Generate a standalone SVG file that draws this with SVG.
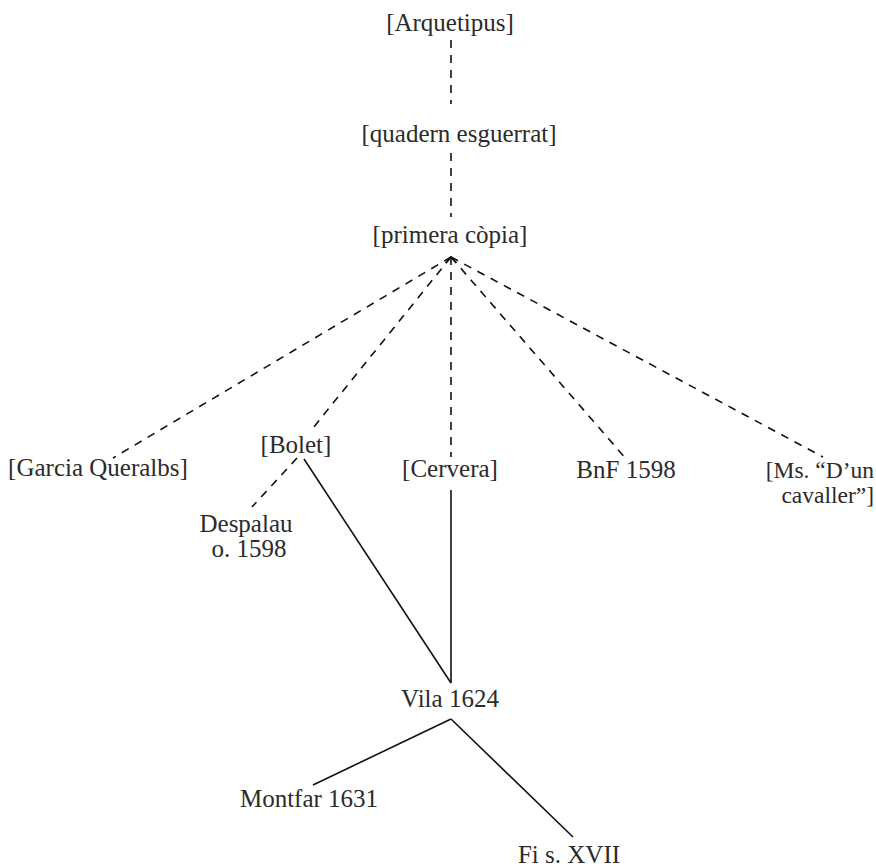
<svg xmlns="http://www.w3.org/2000/svg" width="876" height="868" viewBox="0 0 876 868">
<style>
  text { font-family: "Liberation Serif", "DejaVu Serif", serif; font-size: 25px; fill: #2b2b2b; text-anchor: middle; }
  .ms { font-size: 23.5px; text-anchor: end; }
  .dash { stroke: #111; stroke-width: 1.6; stroke-dasharray: 8 7; fill: none; }
  .solid { stroke: #111; stroke-width: 1.6; fill: none; }
</style>
<rect width="876" height="868" fill="#ffffff"/>
<g id="connectors">
  <line class="dash" x1="451" y1="40" x2="451" y2="104"/>
  <line class="dash" x1="451" y1="153" x2="451" y2="217"/>
  <line class="dash" x1="451" y1="257" x2="113" y2="458"/>
  <line class="dash" x1="451" y1="257" x2="313" y2="428"/>
  <line class="dash" x1="451" y1="257" x2="451" y2="457"/>
  <line class="dash" x1="451" y1="257" x2="627" y2="460"/>
  <line class="dash" x1="451" y1="257" x2="823" y2="457"/>
  <polyline class="solid" points="445.5,263 451,257 456.5,263"/>
  <line class="dash" x1="297" y1="458" x2="252" y2="507"/>
  <line class="solid" x1="304" y1="459" x2="451" y2="683"/>
  <line class="solid" x1="451" y1="490" x2="451" y2="683"/>
  <line class="solid" x1="451" y1="719" x2="313" y2="785"/>
  <line class="solid" x1="451" y1="719" x2="573" y2="837"/>
</g>
<g id="arquetipus"><text x="450" y="31">[Arquetipus]</text></g>
<g id="quadern"><text x="459" y="142">[quadern esguerrat]</text></g>
<g id="primera"><text x="450" y="243">[primera còpia]</text></g>
<g id="garcia"><text x="98" y="476">[Garcia Queralbs]</text></g>
<g id="bolet"><text x="296" y="453">[Bolet]</text></g>
<g id="cervera"><text x="450" y="477">[Cervera]</text></g>
<g id="bnf"><text x="626" y="478">BnF 1598</text></g>
<g id="ms"><text class="ms" x="874" y="478">[Ms. “D’un</text><text class="ms" x="874" y="503">cavaller”]</text></g>
<g id="despalau"><text x="246" y="532">Despalau</text><text x="249" y="557">o. 1598</text></g>
<g id="vila"><text x="450" y="707">Vila 1624</text></g>
<g id="montfar"><text x="309" y="807">Montfar 1631</text></g>
<g id="fi"><text x="569" y="863">Fi s. XVII</text></g>
</svg>
